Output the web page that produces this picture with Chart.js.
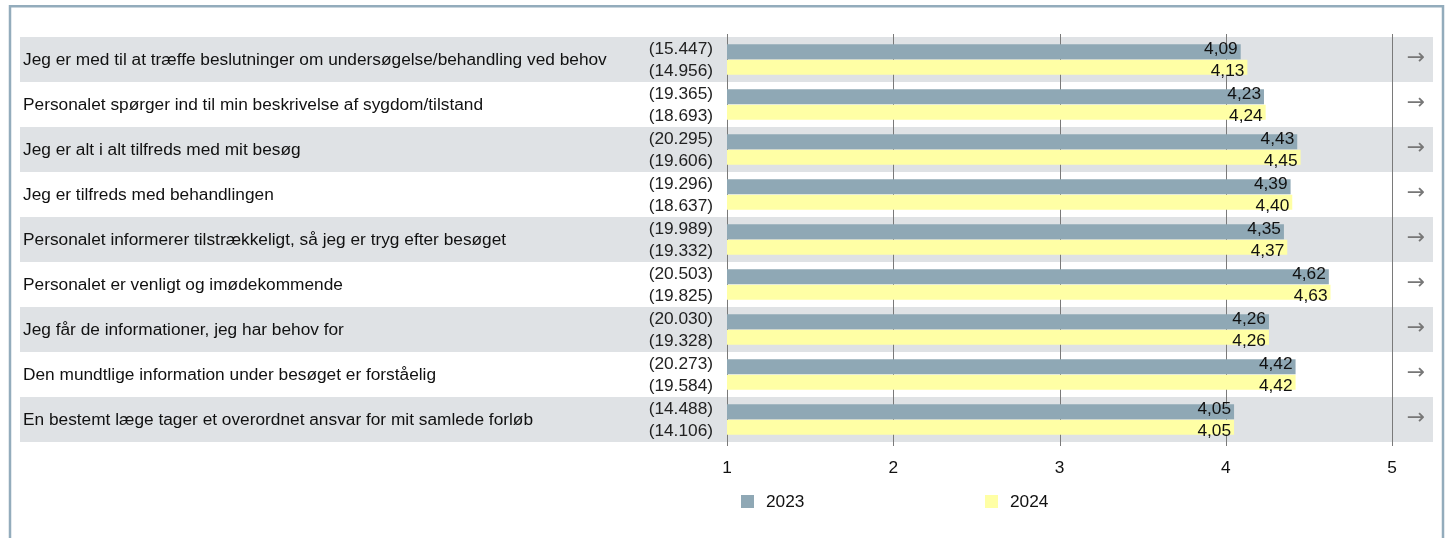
<!DOCTYPE html>
<html>
<head>
<meta charset="utf-8">
<script src="https://cdn.jsdelivr.net/npm/chart.js@4.4.1/dist/chart.umd.min.js"></script>
<style>
html,body{margin:0;padding:0;background:#fff;}
canvas{display:block;}
</style>
</head>
<body>
<canvas id="c" width="1450" height="538"></canvas>
<script>
const categories = [
  "Jeg er med til at træffe beslutninger om undersøgelse/behandling ved behov",
  "Personalet spørger ind til min beskrivelse af sygdom/tilstand",
  "Jeg er alt i alt tilfreds med mit besøg",
  "Jeg er tilfreds med behandlingen",
  "Personalet informerer tilstrækkeligt, så jeg er tryg efter besøget",
  "Personalet er venligt og imødekommende",
  "Jeg får de informationer, jeg har behov for",
  "Den mundtlige information under besøget er forståelig",
  "En bestemt læge tager et overordnet ansvar for mit samlede forløb"
];
const seriesNames = ["2023", "2024"];
const values2023 = [4.09, 4.23, 4.43, 4.39, 4.35, 4.62, 4.26, 4.42, 4.05];
const values2024 = [4.13, 4.24, 4.45, 4.40, 4.37, 4.63, 4.26, 4.42, 4.05];
const counts2023 = ["(15.447)", "(19.365)", "(20.295)", "(19.296)", "(19.989)", "(20.503)", "(20.030)", "(20.273)", "(14.488)"];
const counts2024 = ["(14.956)", "(18.693)", "(19.606)", "(18.637)", "(19.332)", "(19.825)", "(19.328)", "(19.584)", "(14.106)"];
const trendArrows = ["→", "→", "→", "→", "→", "→", "→", "→", "→"];
const xTicks = [1, 2, 3, 4, 5];

const FONT = '"Liberation Sans", Arial, Helvetica, sans-serif';
const FS = 17.3;
const colors = ["#8fa8b5", "#ffffa5"];
const counts = [counts2023, counts2024];

const decor = {
  id: 'decor',
  beforeDraw(chart) {
    const ctx = chart.ctx;
    const y = chart.scales.y;
    ctx.save();
    ctx.fillStyle = '#fff';
    ctx.fillRect(0, 0, chart.width, chart.height);
    ctx.strokeStyle = '#93acbc';
    ctx.lineWidth = 2.5;
    ctx.beginPath();
    ctx.moveTo(10, 540);
    ctx.lineTo(10, 6.25);
    ctx.lineTo(1443, 6.25);
    ctx.lineTo(1443, 540);
    ctx.stroke();
    const h = (y.getPixelForValue(1) - y.getPixelForValue(0));
    categories.forEach((c, i) => {
      if (i % 2 === 0) {
        const cy = y.getPixelForValue(i);
        ctx.fillStyle = '#dfe2e5';
        ctx.fillRect(20, cy - h / 2, 1413, h);
      }
    });
    ctx.restore();
  },
  beforeDatasetsDraw(chart) {
    const ctx = chart.ctx;
    const x = chart.scales.x;
    const a = chart.chartArea;
    ctx.save();
    ctx.strokeStyle = '#7a7a7a';
    ctx.lineWidth = 1;
    xTicks.forEach(t => {
      const px = Math.round(x.getPixelForValue(t)) + 0.5;
      ctx.beginPath();
      ctx.moveTo(px, a.top - 3);
      ctx.lineTo(px, a.bottom + 4);
      ctx.stroke();
    });
    ctx.restore();
  },
  afterDraw(chart) {
    const ctx = chart.ctx;
    const y = chart.scales.y;
    ctx.save();
    ctx.textBaseline = 'middle';
    ctx.font = FS + 'px ' + FONT;
    ctx.fillStyle = '#111';
    ctx.textAlign = 'left';
    categories.forEach((c, i) => {
      ctx.fillText(c, 23, y.getPixelForValue(i) + 1);
    });
    ctx.fillStyle = '#777';
    ctx.textAlign = 'center';
    ctx.font = '22px "DejaVu Sans", ' + FONT;
    trendArrows.forEach((t, i) => {
      ctx.fillText(t, 1416, y.getPixelForValue(i) - 1);
    });
    ctx.font = FS + 'px ' + FONT;
    chart.data.datasets.forEach((ds, di) => {
      const meta = chart.getDatasetMeta(di);
      const off = di === 0 ? -2.5 : 4;
      meta.data.forEach((bar, j) => {
        ctx.fillStyle = '#222';
        ctx.textAlign = 'right';
        ctx.fillText(counts[di][j], 713, bar.y + off);
        ctx.fillStyle = '#111';
        ctx.fillText(ds.data[j].toFixed(2).replace('.', ','), bar.x - 3, bar.y + off);
      });
    });
    const lx = [741, 985];
    chart.data.datasets.forEach((ds, di) => {
      ctx.fillStyle = ds.backgroundColor;
      ctx.fillRect(lx[di], 495, 13, 13);
      ctx.fillStyle = '#111';
      ctx.textAlign = 'left';
      ctx.fillText(ds.label, lx[di] + 25, 502);
    });
    ctx.restore();
  }
};

new Chart(document.getElementById('c'), {
  type: 'bar',
  data: {
    labels: categories,
    datasets: [
      { label: seriesNames[0], data: values2023, backgroundColor: colors[0], categoryPercentage: 0.69, barPercentage: 0.96 },
      { label: seriesNames[1], data: values2024, backgroundColor: colors[1], categoryPercentage: 0.69, barPercentage: 0.96 }
    ]
  },
  options: {
    indexAxis: 'y',
    responsive: false,
    animation: false,
    layout: { padding: { left: 727, right: 58, top: 37, bottom: 56 } },
    plugins: { legend: { display: false }, tooltip: { enabled: false } },
    scales: {
      x: {
        min: 1, max: 5,
        afterBuildTicks: s => { s.ticks = xTicks.map(v => ({ value: v })); },
        afterFit: s => { s.height = 40; },
        ticks: { font: { size: FS, family: FONT }, color: '#111', padding: 16 },
        grid: { display: false, drawTicks: false },
        border: { display: false }
      },
      y: { display: false }
    }
  },
  plugins: [decor]
});
</script>
</body>
</html>
